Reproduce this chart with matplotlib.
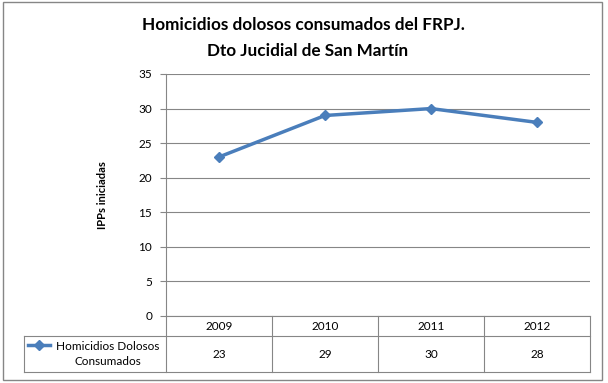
import matplotlib
matplotlib.use("Agg")
import matplotlib.pyplot as plt
from matplotlib.patches import Rectangle
from matplotlib.lines import Line2D
import matplotlib.transforms as mtransforms

years = ["2009", "2010", "2011", "2012"]
values = [23, 29, 30, 28]
series_name = "Homicidios Dolosos\nConsumados"
title_lines = ["Homicidios dolosos consumados del FRPJ.", "Dto Jucidial de San Martín"]
y_label = "IPPs iniciadas"

W, H = 608, 383
LINE_COLOR = "#4A7EBB"
GRID = "#868686"

plt.rcParams["font.family"] = ["Lato", "DejaVu Sans"]

fig = plt.figure(figsize=(W / 100, H / 100), dpi=100)


def px(x, y):
    # pixel coords (top-left origin) -> figure fraction
    return x / W, 1 - y / H


# plot area
x0, y_top, x1, y_bot = 166, 74, 590, 316
ax = fig.add_axes([x0 / W, 1 - y_bot / H, (x1 - x0) / W, (y_bot - y_top) / H])

xs = list(range(len(years)))
ax.plot(xs, values, color=LINE_COLOR, lw=2.5, marker="D", ms=5, zorder=3)
ax.set_xlim(-0.5, len(years) - 0.5)
ax.set_ylim(0, 35)
ax.set_yticks(range(0, 36, 5))
ax.yaxis.grid(True, color=GRID, lw=0.8)
ax.set_axisbelow(True)
ax.set_xticks([])
for s in ["top", "right", "bottom"]:
    ax.spines[s].set_visible(False)
ax.spines["left"].set_color(GRID)
ax.tick_params(axis="y", length=4, color=GRID, labelsize=8.5, pad=6)
ax.set_ylabel(y_label, fontsize=8, fontweight="bold", labelpad=22)

# data table below the plot
trans = mtransforms.blended_transform_factory(ax.transData, fig.transFigure)
hdr_top, hdr_bot, row_bot = 316, 336, 372
tab_left = 24


def hline(xa, xb, yp):
    fig.add_artist(Line2D([xa / W, xb / W], [1 - yp / H] * 2, color=GRID, lw=0.8))


def vline(xp, ya, yb):
    fig.add_artist(Line2D([xp / W] * 2, [1 - ya / H, 1 - yb / H], color=GRID, lw=0.8))


hline(x0, x1, hdr_top)
hline(tab_left, x1, hdr_bot)
hline(tab_left, x1, row_bot)
vline(tab_left, hdr_bot, row_bot)
col_w = (x1 - x0) / len(years)
for i in range(len(years) + 1):
    vline(x0 + i * col_w, hdr_top, row_bot)

for i, (yr, v) in enumerate(zip(years, values)):
    fig.text(i, 1 - (hdr_top + hdr_bot) / 2 / H, yr, transform=trans,
             ha="center", va="center", fontsize=8.5)
    fig.text(i, 1 - (hdr_bot + row_bot) / 2 / H, str(v), transform=trans,
             ha="center", va="center", fontsize=8.5)

# legend key inside the table
ly = 345
fig.add_artist(Line2D([28 / W, 50 / W], [1 - ly / H] * 2, color=LINE_COLOR, lw=2.5))
fig.add_artist(Line2D([39 / W], [1 - ly / H], color=LINE_COLOR, marker="D", ms=5))
fig.text(*px(108, (hdr_bot + row_bot) / 2), series_name, ha="center", va="center",
         fontsize=8.5, linespacing=1.5)

# titles
fig.text(*px(303, 25), title_lines[0], ha="center", va="center", fontsize=12.3, fontweight="bold")
fig.text(*px(308, 51), title_lines[1], ha="center", va="center", fontsize=12.3, fontweight="bold")

# outer border
fig.add_artist(Rectangle((3 / W, 1 - 380 / H), 599 / W, 378 / H, fill=False,
                         ec=GRID, lw=1, transform=fig.transFigure))

fig.savefig("out.png", dpi=100)
